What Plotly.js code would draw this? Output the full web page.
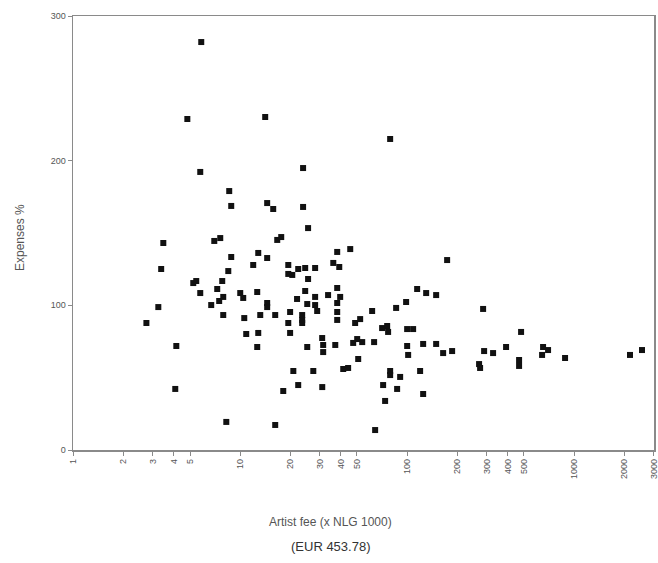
<!DOCTYPE html>
<html>
<head>
<meta charset="utf-8">
<script src="https://cdn.plot.ly/plotly-3.0.1.min.js"></script>
<style>html,body{margin:0;padding:0;background:#fff;}#chart{width:658px;height:563px;}</style>
</head>
<body>
<div id="chart"></div>
<script>
// Artist fee (x NLG 1000)
const artistFee = [5.84,4.82,14.11,79.1,5.76,23.8,8.59,8.83,14.5,15.76,23.8,25.5,3.46,6.99,7.59,16.66,17.6,45.6,173.6,8.83,12.82,14.5,38.1,3.36,8.48,11.96,19.4,19.4,20.5,22.25,24.5,28.1,36.1,39.2,25.5,5.23,5.45,7.8,5.76,7.28,10.0,10.42,12.64,24.5,28.1,33.6,38.1,39.7,21.9,6.7,7.48,7.91,3.23,14.5,14.5,25.2,28.1,28.9,38.1,2.74,7.91,10.57,13.18,16.2,19.9,23.5,23.5,23.5,38.1,38.1,19.4,19.9,10.86,12.82,4.14,12.64,25.2,30.97,31.4,31.4,37.1,20.8,27.4,41.4,44.3,22.25,31.0,18.1,4.08,8.25,16.2,48.8,52.3,50.2,53.8,47.5,50.9,61.7,63.4,70.8,75.9,76.9,85.9,98.6,114.8,130.0,149.2,100.0,108.6,100.0,124.7,149.2,101.4,79.1,79.1,90.8,119.6,71.8,87.1,124.7,73.8,64.3,285.2,481.6,164.3,186.0,289.2,327.3,391.5,652.3,698.8,643.4,883.4,2164,2554,269.8,273.6,468.5,468.5];
// Expenses %
const expenses = [282.0,228.8,230.2,215.0,192.2,194.9,179.0,168.7,170.7,166.6,168.0,153.4,143.1,144.5,146.5,145.2,147.2,138.9,131.3,133.4,136.2,132.7,136.9,125.1,123.7,127.9,127.9,121.7,121.0,125.1,125.8,125.8,129.3,126.5,118.2,115.4,116.8,116.8,108.5,111.3,108.5,105.1,109.2,109.9,105.8,107.1,112.0,105.8,104.4,100.2,103.0,105.8,98.8,101.6,98.8,100.9,100.2,96.1,101.6,87.8,93.3,91.2,93.3,93.3,95.4,93.3,89.9,87.8,95.4,89.9,87.8,80.9,80.2,80.9,71.9,71.2,71.2,77.4,72.6,67.7,72.6,54.6,54.6,56.0,56.7,44.9,43.5,40.8,42.2,19.4,17.3,87.8,90.5,76.7,74.6,74.0,62.9,96.1,74.6,84.3,85.7,81.6,98.2,102.3,111.3,108.5,107.1,83.6,83.6,71.9,73.3,73.3,65.7,54.6,51.8,50.5,54.6,44.9,42.2,38.7,33.9,13.8,97.5,81.6,67.0,68.4,68.4,67.0,71.2,71.2,69.1,65.7,63.6,65.7,69.1,59.4,56.7,62.2,58.1];

const xTickVals = [1,2,3,4,5,10,20,30,40,50,100,200,300,400,500,1000,2000,3000];
const xTickText = ['1','2','3','4','5','10','20','30','40','50','100','200','300','400','500','1000','2000','3000'];
const yTickVals = [0,100,200,300];
const yTickText = ['0','100','200','300'];

const trace = {
  x: artistFee,
  y: expenses,
  type: 'scatter',
  mode: 'markers',
  marker: {symbol: 'square', size: 6, color: '#111'},
  hoverinfo: 'x+y'
};

const axisCommon = {
  showline: true, linecolor: '#8a8a8a', linewidth: 1.5, mirror: true,
  showgrid: false, zeroline: false,
  ticks: 'outside', ticklen: 4, tickcolor: '#8a8a8a', tickwidth: 1,
  ticklabeloverflow: 'allow',
  tickfont: {family: 'Liberation Sans, Arial, sans-serif', size: 9, color: '#555'}
};

const layout = {
  width: 658, height: 563,
  margin: {l: 73, r: 4, t: 16, b: 113},
  paper_bgcolor: '#fff', plot_bgcolor: '#fff',
  showlegend: false,
  font: {family: 'Liberation Sans, Arial, sans-serif', color: '#555'},
  xaxis: Object.assign({}, axisCommon, {
    type: 'log', range: [-0.002, 3.479],
    tickmode: 'array', tickvals: xTickVals, ticktext: xTickText,
    tickangle: -90
  }),
  yaxis: Object.assign({}, axisCommon, {
    range: [0, 300],
    tickmode: 'array', tickvals: yTickVals, ticktext: yTickText
  }),
  annotations: [
    {text: 'Expenses %', xref: 'paper', yref: 'paper', x: -0.09, y: 0.49,
     xanchor: 'center', yanchor: 'middle', textangle: -90, showarrow: false,
     font: {size: 12, color: '#555', family: 'Liberation Sans, Arial, sans-serif'}},
    {text: 'Artist fee (x NLG 1000)', xref: 'paper', yref: 'paper', x: 0.443, y: -0.165,
     xanchor: 'center', yanchor: 'middle', showarrow: false,
     font: {size: 12, color: '#555', family: 'Liberation Sans, Arial, sans-serif'}},
    {text: '(EUR 453.78)', xref: 'paper', yref: 'paper', x: 0.443, y: -0.222,
     xanchor: 'center', yanchor: 'middle', showarrow: false,
     font: {size: 13, color: '#333', family: 'Liberation Sans, Arial, sans-serif'}}
  ]
};

Plotly.newPlot('chart', [trace], layout, {displayModeBar: false, staticPlot: true});
</script>
</body>
</html>
